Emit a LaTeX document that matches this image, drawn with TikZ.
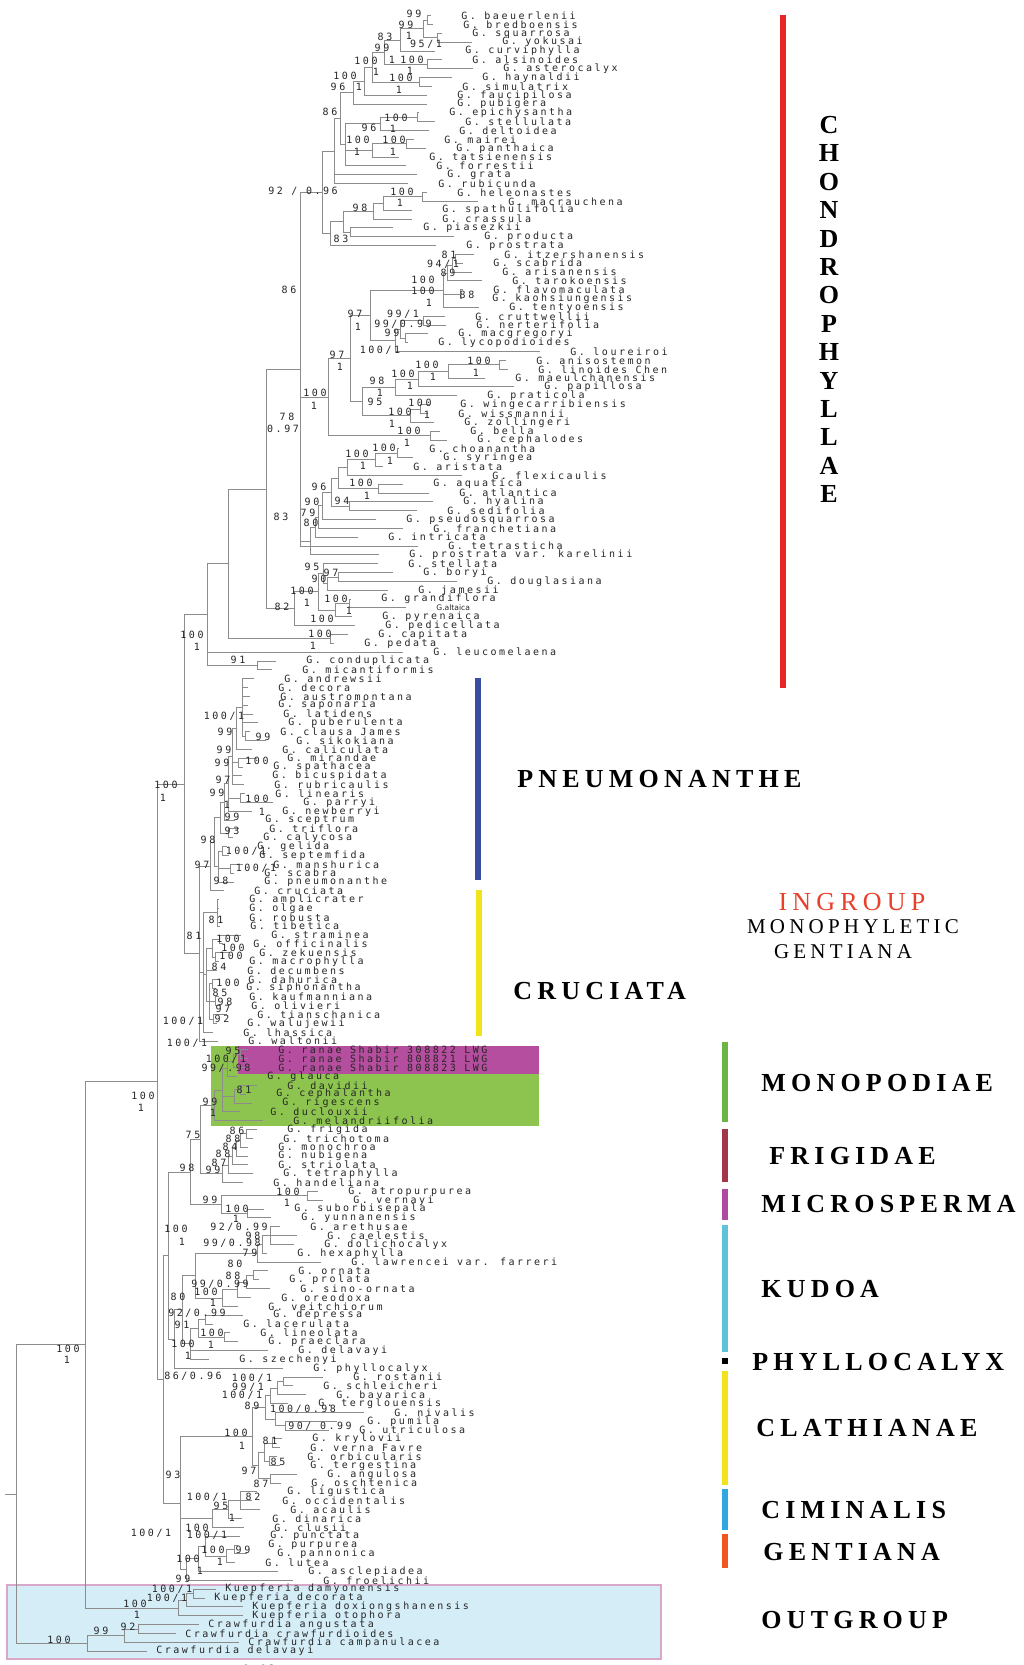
\documentclass[tikz,border=0pt]{standalone}
\usepackage{fontspec}
\usepackage{tikz}
\usetikzlibrary{calc}

\newfontfamily\monofam[LetterSpace=25]{DejaVu Sans Mono}
\newfontfamily\altafam{DejaVu Sans}
\newfontfamily\cladefam[LetterSpace=20]{Liberation Serif}
\newcommand\taxfont{\monofam\fontsize{5}{5.5}\selectfont}
\newcommand\altafont{\altafam\fontsize{3.8}{4}\selectfont}
\newcommand\cladefont{\cladefam\bfseries\fontsize{13}{15}\selectfont}
\newcommand\ingfont{\cladefam\fontsize{13}{15}\selectfont}
\newcommand\monofont{\cladefam\fontsize{10.5}{12}\selectfont}

\definecolor{treegray}{HTML}{8C8C8C}
\definecolor{barred}{HTML}{E8262A}
\definecolor{barblue}{HTML}{3A4EA0}
\definecolor{baryellow}{HTML}{F2E41C}
\definecolor{bargreen}{HTML}{6AB545}
\definecolor{barmaroon}{HTML}{A2364A}
\definecolor{barmagenta}{HTML}{B04AA0}
\definecolor{barcyan}{HTML}{5EC3D6}
\definecolor{barsky}{HTML}{2FA8E2}
\definecolor{barorange}{HTML}{F0561E}
\definecolor{boxgreen}{HTML}{8DC450}
\definecolor{boxmagenta}{HTML}{B54E9E}
\definecolor{outfill}{HTML}{D5EDF7}
\definecolor{outline}{HTML}{D9A7C7}
\definecolor{ingred}{HTML}{E8402A}

\tikzset{
  branch/.style={draw=treegray, line width=0.5pt},
  taxon/.style={anchor=west, inner sep=0pt, font=\taxfont, text=black!85},
  support/.style={inner sep=0pt, font=\taxfont, text=black!85},
  cladebar/.style={line width=3pt},
  cladename/.style={anchor=west, inner sep=0pt, font=\cladefont},
}

% clade: name, x, children (top to bottom)
\newcommand\clade[3]{%
  \foreach \cc [count=\kk] in {#3}{\ifnum\kk=1 \xdef\cfirst{\cc}\fi\xdef\clast{\cc}}%
  \path let \p1=(\cfirst), \p2=(\clast) in coordinate (#1) at ({#2*0.5pt},{0.5*\y1+0.5*\y2});%
  \foreach \cc in {#3}{\draw[branch] (#1) |- (\cc);}%
}

\begin{document}
\begin{tikzpicture}[x=0.5pt,y=-0.5pt]
  \useasboundingbox[fill=white] (0,0) rectangle (1023,1665);

  % boxes
  \filldraw[fill=outfill, draw=outline, line width=0.8pt] (7,1585) rectangle (661,1659);
  \fill[boxgreen] (211,1046) rectangle (539,1126);
  \fill[boxmagenta] (238,1046) rectangle (539,1074);

  % taxa
  \foreach \x/\nm [count=\i from 0] in {
    461/G. baeuerlenii, 463/G. bredboensis, 472/G. squarrosa, 502/G. yokusai,
    465/G. curviphylla, 472/G. alsinoides, 503/G. asterocalyx, 482/G. haynaldii,
    462/G. simulatrix, 457/G. faucipilosa, 457/G. pubigera, 449/G. epichysantha,
    465/G. stellulata, 459/G. deltoidea, 444/G. mairei, 456/G. panthaica,
    429/G. tatsienensis, 436/G. forrestii, 447/G. grata, 438/G. rubicunda,
    457/G. heleonastes, 508/G. macrauchena, 442/G. spathulifolia, 442/G. crassula,
    423/G. piasezkii, 484/G. producta, 466/G. prostrata, 504/G. itzershanensis,
    493/G. scabrida, 502/G. arisanensis, 512/G. tarokoensis, 493/G. flavomaculata,
    492/G. kaohsiungensis, 509/G. tentyoensis, 475/G. cruttwellii, 476/G. nerterifolia,
    458/G. macgregoryi, 438/G. lycopodioides, 570/G. loureiroi, 536/G. anisostemon,
    538/G. linoides Chen, 515/G. maeulchanensis, 544/G. papillosa, 487/G. praticola,
    460/G. wingecarribiensis, 458/G. wissmannii, 464/G. zollingeri, 470/G. bella,
    477/G. cephalodes, 429/G. choanantha, 443/G. syringea, 413/G. aristata,
    492/G. flexicaulis, 433/G. aquatica, 459/G. atlantica, 463/G. hyalina,
    447/G. sedifolia, 406/G. pseudosquarrosa, 433/G. franchetiana, 388/G. intricata,
    448/G. tetrasticha, 409/G. prostrata var. karelinii, 408/G. stellata, 423/G. boryi,
    487/G. douglasiana, 418/G. jamesii, 381/G. grandiflora, 436/{\altafont G.altaica},
    382/G. pyrenaica, 385/G. pedicellata, 378/G. capitata, 364/G. pedata,
    433/G. leucomelaena, 306/G. conduplicata, 302/G. micantiformis, 284/G. andrewsii,
    278/G. decora, 280/G. austromontana, 278/G. saponaria, 283/G. latidens,
    288/G. puberulenta, 280/G. clausa James, 296/G. sikokiana, 282/G. caliculata,
    287/G. mirandae, 273/G. spathacea, 272/G. bicuspidata, 274/G. rubricaulis,
    275/G. linearis, 303/G. parryi, 282/G. newberryi, 265/G. sceptrum,
    269/G. triflora, 263/G. calycosa, 257/G. gelida, 259/G. septemfida,
    273/G. manshurica, 264/G. scabra, 264/G. pneumonanthe, 254/G. cruciata,
    249/G. amplicrater, 249/G. olgae, 249/G. robusta, 250/G. tibetica,
    271/G. straminea, 253/G. officinalis, 259/G. zekuensis, 249/G. macrophylla,
    247/G. decumbens, 248/G. dahurica, 246/G. siphonantha, 249/G. kaufmanniana,
    251/G. olivieri, 257/G. tianschanica, 247/G. walujewii, 243/G. lhassica,
    248/G. waltonii, 278/G. ranae Shabir 308822 LWG, 278/G. ranae Shabir 808821 LWG,
    278/G. ranae Shabir 808823 LWG, 267/G. glauca, 287/G. davidii, 276/G. cephalantha,
    282/G. rigescens, 270/G. duclouxii, 293/G. melandriifolia, 287/G. frigida,
    283/G. trichotoma, 278/G. monochroa, 278/G. nubigena, 278/G. striolata,
    283/G. tetraphylla, 273/G. handeliana, 348/G. atropurpurea, 353/G. vernayi,
    294/G. suborbisepala, 301/G. yunnanensis, 310/G. arethusae, 327/G. caelestis,
    324/G. dolichocalyx, 297/G. hexaphylla, 351/G. lawrencei var. farreri, 298/G. ornata,
    289/G. prolata, 300/G. sino-ornata, 281/G. oreodoxa, 268/G. veitchiorum,
    273/G. depressa, 243/G. lacerulata, 260/G. lineolata, 268/G. praeclara,
    298/G. delavayi, 239/G. szechenyi, 313/G. phyllocalyx, 353/G. rostanii,
    323/G. schleicheri, 336/G. bavarica, 318/G. terglouensis, 394/G. nivalis,
    367/G. pumila, 359/G. utriculosa, 312/G. krylovii, 310/G. verna Favre,
    307/G. orbicularis, 310/G. tergestina, 327/G. angulosa, 311/G. oschtenica,
    287/G. ligustica, 282/G. occidentalis, 290/G. acaulis, 272/G. dinarica,
    274/G. clusii, 270/G. punctata, 268/G. purpurea, 277/G. pannonica,
    265/G. lutea, 308/G. asclepiadea, 323/G. froelichii}{
    \coordinate (t\i) at (\x-30,{15.7+8.84*\i});
    \node[taxon] (l\i) at (\x,{15.7+8.84*\i}) {\nm};
  }
  \foreach \x/\nm [count=\i from 178] in {
    225/Kuepferia damyonensis, 214/Kuepferia decorata,
    252/Kuepferia doxiongshanensis, 252/Kuepferia otophora,
    208/Crawfurdia angustata, 185/Crawfurdia crawfurdioides,
    248/Crawfurdia campanulacea, 156/Crawfurdia delavayi}{
    \coordinate (t\i) at (\x-9,{15.7+8.84*\i});
    \node[taxon] (l\i) at (\x,{15.7+8.84*\i}) {\nm};
  }

  % Chondrophyllae
  \clade{a1}{427}{t0,t1}
  \clade{a2}{437}{t2,t3}
  \clade{a3}{423}{a1,a2}
  \clade{a4}{400}{a3,t4}
  \clade{a5}{427}{t5,t6}
  \clade{a6}{384}{a4,a5}
  \clade{a7}{419}{t7,t8}
  \clade{a8}{372}{a6,a7}
  \clade{a9}{364}{a8,t9}
  \clade{a10}{353}{a9,t10}
  \clade{b1}{417}{t11,t12}
  \clade{b2}{380}{b1,t13}
  \clade{b3}{406}{t14,t15}
  \clade{b4}{372}{b3,t16}
  \clade{b5}{345}{b2,b4,t17}
  \clade{a11}{340}{a10,b5}
  \clade{a12}{334}{a11,t18,t19}
  \clade{c3a}{422}{t20,t21}
  \clade{c3b}{383}{c3a,t22}
  \clade{c3c}{373}{c3b,t23}
  \clade{c3e}{350}{t24,t25}
  \clade{c3d}{343}{c3c,c3e}
  \clade{c3f}{330}{c3d,t26}
  \clade{c1}{322}{a12,c3f}
  \clade{d1}{455}{t27,t28}
  \clade{d2}{452}{d1,t29}
  \clade{d3}{447}{d2,t30}
  \clade{d4}{460}{t31,t32}
  \clade{d5}{443}{d3,d4,t33}
  \clade{d7}{423}{t34,t35}
  \clade{d8}{405}{t36,t37}
  \clade{d9}{400}{d7,d8}
  \clade{d10}{395}{d9,t38}
  \clade{d11}{370}{d5,d10}
  \clade{e1}{499}{t39,t40}
  \clade{e2}{448}{e1,t41}
  \clade{e3}{418}{e2,t42}
  \clade{e4}{395}{e3,t43}
  \clade{e5}{420}{t44,t45}
  \clade{e6}{410}{e5,t46}
  \clade{e8}{362}{e4,e6}
  \clade{e9}{350}{d11,e8}
  \clade{e7}{430}{t47,t48}
  \clade{f2}{328}{e9,e7}
  \clade{g1}{397}{t49,t50}
  \clade{g2}{375}{g1,t51}
  \clade{g3}{347}{g2,t52}
  \clade{g4}{378}{t53,t54}
  \clade{g5}{338}{g3,g4}
  \clade{g6}{349}{t55,t56}
  \clade{g7}{331}{g5,g6}
  \clade{g8}{322}{g7,t57}
  \clade{g9}{318}{g8,t58}
  \clade{g10}{315}{g9,t59}
  \clade{g11}{310}{g10,t61}
  \clade{X}{300}{c1,f2,g11,t60}
  \clade{h1}{338}{t63,t64}
  \clade{h2}{327}{h1,t65}
  \clade{h3}{323}{t62,h2}
  \clade{h4}{349}{t66,t67}
  \clade{h5}{335}{h4,t68}
  \clade{h6}{318}{h3,h5}
  \clade{h7}{294}{h6,t69}
  \clade{n83}{266}{X,h7}
  \clade{h8}{330}{t70,t71}
  \clade{H1}{228}{n83,h8}
  \clade{c91}{257}{t73,t74}
  \clade{H}{207}{H1,t72,c91}

  % Pneumonanthe and Cruciata
  \clade{p2}{245}{t81,t82}
  \clade{p1}{242}{t75,t76,t77,t78,t79,t80,p2}
  \clade{p4}{236}{p1,t83}
  \clade{p5}{238}{t84,t85}
  \clade{p6}{232}{p4,p5,t86,t87}
  \clade{p7}{240}{t88,t89}
  \clade{p8}{228}{p6,p7,t90}
  \clade{p9}{224}{p8,t91}
  \clade{p10}{228}{t92,t93}
  \clade{p11}{220}{p9,p10}
  \clade{p12}{222}{t94,t95}
  \clade{p13}{230}{t96,t97}
  \clade{p14}{218}{p12,p13,t98}
  \clade{p15}{214}{p11,p14}
  \clade{p16}{210}{p15,t99}
  \clade{q1}{217}{t100,t101,t102,t103}
  \clade{q2}{219}{t104,t105}
  \clade{q3}{215}{t106,t107}
  \clade{q4}{212}{q2,q3}
  \clade{q5}{212}{t109,t110}
  \clade{q6}{215}{t111,t112}
  \clade{q7}{213}{t113,t114}
  \clade{q8}{209}{q5,q6,q7}
  \clade{q9}{206}{q4,t108,q8}
  \clade{q10}{203}{q1,q9,t115}
  \clade{PC}{199}{p16,q10,t116}
  \clade{Z}{184}{H,PC}

  % Monopodiae, Frigidae, Microsperma
  \clade{m1}{240}{t117,t118}
  \clade{m2}{233}{m1,t119}
  \clade{m3}{227}{m2,t120}
  \clade{m4}{240}{t121,t122}
  \clade{m5}{234}{m4,t123}
  \clade{m6}{222}{m3,m5,t124}
  \clade{m7}{214}{m6,t125}
  \clade{fr1}{246}{t126,t127}
  \clade{fr2}{240}{fr1,t128}
  \clade{fr3}{236}{fr2,t129}
  \clade{fr4}{232}{fr3,t130}
  \clade{fr5}{228}{fr4,t131}
  \clade{fr6}{222}{fr5,t132}
  \clade{F0}{200}{m7,fr6}
  \clade{mi1}{307}{t133,t134}
  \clade{mi2}{247}{t135,t136}
  \clade{mi3}{221}{mi1,mi2}
  \clade{S0}{190}{F0,mi3}

  % Kudoa, Phyllocalyx
  \clade{k1}{270}{t137,t138,t139}
  \clade{k2}{262}{k1,t140}
  \clade{k3}{257}{k2,t141}
  \clade{k4}{253}{t142,t143}
  \clade{k5}{246}{k4,t144}
  \clade{k6}{237}{k5,t145}
  \clade{k7}{222}{k6,t146}
  \clade{k8}{195}{k3,k7}
  \clade{k9}{205}{t147,t148}
  \clade{k10}{224}{t149,t150}
  \clade{k11}{198}{k9,k10}
  \clade{k12}{190}{k11,t151,t152}
  \clade{KU}{182}{k8,k12}
  \clade{KP}{174}{KU,t153}
  \clade{L1}{168}{S0,KP}

  % Clathianae, Ciminalis, Gentiana
  \clade{cl1}{283}{t154,t155}
  \clade{cl2}{277}{cl1,t156}
  \clade{cl3}{270}{cl2,t157}
  \clade{cl4}{285}{t159,t160}
  \clade{cl5}{275}{t158,cl4}
  \clade{cl6}{265}{cl3,cl5}
  \clade{cl7}{272}{t161,t162}
  \clade{cl8}{269}{t163,t164}
  \clade{cl9}{264}{cl7,cl8}
  \clade{cl10}{270}{t165,t166}
  \clade{cl11}{258}{cl9,cl10}
  \clade{cl12}{252}{cl6,cl11}
  \clade{ci1}{240}{t167,t168,t169}
  \clade{ci2}{228}{ci1,t170}
  \clade{ci3}{212}{ci2,t171}
  \clade{ge1}{234}{t173,t174}
  \clade{ge2}{226}{ge1,t175}
  \clade{ge3}{205}{t172,ge2}
  \clade{ge4}{198}{ge3,t176}
  \clade{ge5}{186}{ge4,t177}
  \clade{L2}{180}{cl12,ci3,ge5}
  \clade{K}{163}{L1,L2}
  \clade{I0}{157}{Z,K}

  % outgroups and root
  \clade{ku1}{193}{t178,t179}
  \clade{ku2}{186}{ku1,t180}
  \clade{ku3}{178}{ku2,t181}
  \clade{N1}{85}{I0,ku3}
  \clade{cr1}{138}{t182,t183}
  \clade{cr2}{124}{cr1,t184}
  \clade{cr3}{87}{cr2,t185}
  \clade{root}{16}{N1,cr3}
  \path (root) ++(-11,0) coordinate (rootstub);
  \draw[branch] (root) -- (rootstub);

  % support values
  \foreach \x/\y/\s [count=\i] in {
    414/14/99, 406/25/99, 409/36/1, 385/37/83, 426/44/{95/1}, 382/48/99,
    366/61/100, 392/60/1, 412/60/100, 376/72/1, 410/71/1, 345/76/100,
    401/78/100, 338/87/96, 359/87/1, 399/90/1, 330/112/86, 396/118/100,
    369/128/96, 393/129/1, 358/140/100, 394/140/100, 357/152/1, 393/152/1,
    303/191/{92 / 0.96}, 402/192/100, 400/203/1, 360/208/98, 341/239/83,
    449/255/81, 443/264/{94/1}, 448/273/89, 423/280/100, 289/290/86,
    423/291/100, 467/295/88, 429/303/1, 355/314/97, 403/314/{99/1},
    358/327/1, 403/324/{99/0.99}, 392/333/99, 380/350/{100/1}, 337/355/97,
    427/365/100, 479/361/100, 340/367/1, 403/374/100, 433/377/1, 476/373/1,
    377/381/98, 315/393/100, 380/393/1, 410/386/1, 314/406/1, 375/402/95,
    420/403/100, 400/412/100, 427/415/1, 287/417/78, 283/429/0.97,
    392/424/1, 409/431/100, 407/443/1, 384/448/100, 357/454/100, 390/461/1,
    363/466/1, 319/487/96, 361/483/100, 367/496/1, 312/502/90, 342/501/94,
    308/513/79, 281/517/83, 311/523/80, 312/567/95, 331/573/97, 319/579/90,
    302/591/100, 336/599/100, 307/603/1, 349/611/1, 282/607/82, 322/619/100,
    192/635/100, 320/634/100, 197/647/1, 313/646/1, 238/660/91,
    224/716/{100/1}, 225/732/99, 263/737/99, 224/750/99, 257/761/100,
    222/763/99, 166/785/100, 223/780/97, 163/798/1, 217/793/99, 257/799/100,
    227/805/1, 262/812/1, 232/817/99, 232/831/93, 208/840/98,
    246/851/{100/1}, 202/865/97, 256/868/{100/1}, 221/881/98, 216/920/81,
    194/936/81, 228/939/100, 233/948/100, 231/956/100, 219/967/84,
    228/983/100, 220/993/85, 225/1002/98, 223/1009/97, 183/1021/{100/1},
    222/1019/92, 187/1043/{100/1}, 233/1051/95, 226/1059/{100/1},
    226/1068/{99/.98}, 244/1090/81, 210/1102/99, 213/1113/1, 143/1096/100,
    141/1108/1, 237/1131/86, 193/1135/75, 233/1139/88, 230/1147/84,
    223/1154/88, 219/1163/87, 187/1168/98, 213/1170/99, 288/1192/100,
    210/1200/99, 287/1203/1, 237/1209/100, 236/1219/1, 176/1229/100,
    239/1227/{92/0.99}, 253/1236/98, 182/1242/1, 232/1243/{99/0.98},
    250/1253/79, 235/1264/80, 233/1276/88, 220/1284/{99/0.99}, 178/1297/80,
    206/1292/100, 213/1303/1, 197/1313/{92/0.99}, 182/1325/91, 212/1333/100,
    183/1344/100, 211/1345/1, 188/1356/1, 193/1376/{86/0.96},
    252/1378/{100/1}, 248/1387/{99/1}, 242/1395/{100/1}, 252/1406/89,
    303/1409/{100/0.98}, 320/1426/{90/ 0.99}, 236/1433/100, 242/1446/1,
    270/1441/81, 278/1462/85, 173/1475/93, 249/1471/97, 261/1484/87,
    207/1497/{100/1}, 253/1497/82, 221/1506/95, 232/1518/1, 197/1528/100,
    151/1533/{100/1}, 207/1535/{100/1}, 213/1550/100, 243/1550/99,
    188/1559/100, 220/1562/1, 200/1571/1, 183/1579/99, 172/1589/{100/1},
    167/1598/{100/1}, 135/1604/100, 137/1615/1, 101/1631/99, 128/1627/92,
    59/1640/100, 68/1349/100, 67/1360/1}{
    \node[support] (s\i) at (\x,\y) {\s};
  }
  \node[support] (scale) at (259,1669) {0.03};

  % clade bars
  \draw[barred, line width=2.75pt] (783,15) -- (783,688);
  \draw[barblue, cladebar] (478,678) -- (478,880);
  \draw[baryellow, cladebar] (479,890) -- (479,1036);
  \draw[bargreen, cladebar] (725,1042) -- (725,1122);
  \draw[barmaroon, cladebar] (725,1129) -- (725,1182);
  \draw[barmagenta, cladebar] (725,1189) -- (725,1220);
  \draw[barcyan, cladebar] (725,1225) -- (725,1352);
  \fill[black] (722,1358) rectangle (728,1364);
  \draw[baryellow, cladebar] (725,1371) -- (725,1485);
  \draw[barsky, cladebar] (725,1489) -- (725,1530);
  \draw[barorange, cladebar] (725,1534) -- (725,1568);

  % clade names
  \foreach \ch [count=\i from 0] in {C,H,O,N,D,R,O,P,H,Y,L,L,A,E}{
    \node[inner sep=0pt, font=\cladefam\bfseries\fontsize{13}{15}\selectfont] (ch\i) at (829,{125+28.4*\i}) {\ch};
  }
  \node[cladename] (pneu) at (517,779) {PNEUMONANTHE};
  \node[cladename] (cruc) at (513,991) {CRUCIATA};
  \node[inner sep=0pt, font=\ingfont, text=ingred] (ingr) at (852,902) {INGROUP};
  \node[inner sep=0pt, font=\monofont] (mono) at (853,927) {MONOPHYLETIC};
  \node[inner sep=0pt, font=\monofont] (gent) at (843,952) {GENTIANA};
  \node[cladename] (monop) at (761,1083) {MONOPODIAE};
  \node[cladename] (frig) at (769,1156) {FRIGIDAE};
  \node[cladename] (micro) at (761,1204) {MICROSPERMA};
  \node[cladename] (kudoa) at (761,1289) {KUDOA};
  \node[cladename] (phyl) at (752,1362) {PHYLLOCALYX};
  \node[cladename] (clath) at (756,1428) {CLATHIANAE};
  \node[cladename] (cimin) at (761,1510) {CIMINALIS};
  \node[cladename] (gentb) at (763,1552) {GENTIANA};
  \node[cladename] (outg) at (761,1620) {OUTGROUP};
\end{tikzpicture}
\end{document}
